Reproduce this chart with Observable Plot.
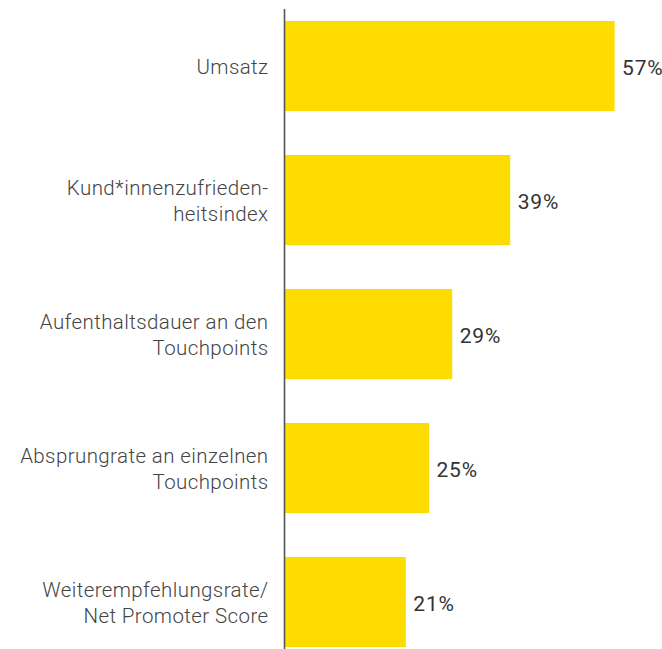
<!DOCTYPE html>
<html>
<head>
<meta charset="utf-8">
<script src="https://cdn.jsdelivr.net/npm/d3@7"></script>
<script src="https://cdn.jsdelivr.net/npm/@observablehq/plot@0.6"></script>
<style>
  html, body { margin: 0; padding: 0; background: #fff; }
  #chart svg { display: block; }
  #chart g.cat-labels text { letter-spacing: 0.4px; }
  #chart g.val-labels text { letter-spacing: 0.8px; }
</style>
</head>
<body>
<div id="chart"></div>
<script>
const categories = [
  "Umsatz",
  "Kund*innenzufrieden-\nheitsindex",
  "Aufenthaltsdauer an den\nTouchpoints",
  "Absprungrate an einzelnen\nTouchpoints",
  "Weiterempfehlungsrate/\nNet Promoter Score"
];
const values = [57, 39, 29, 25, 21];
const valueLabels = ["57%", "39%", "29%", "25%", "21%"];

const data = categories.map((c, i) => ({cat: c, value: values[i], label: valueLabels[i]}));

const chart = Plot.plot({
  width: 662,
  height: 649,
  marginTop: 9,
  marginBottom: 0,
  marginLeft: 284,
  marginRight: 0,
  style: {fontFamily: "Roboto, sans-serif", background: "#fff"},
  x: {domain: [0, 60], range: [284, 284 + 60 * 5.8], axis: null},
  y: {domain: categories, paddingInner: 0.328, paddingOuter: 0.052, align: 0.86, axis: null},
  marks: [
    Plot.barX(data, {x: "value", y: "cat", fill: "#FFDC00"}),
    Plot.ruleX([0], {stroke: "#555", strokeWidth: 1.6}),
    Plot.text(data, {
      x: 0, y: "cat", text: "cat", textAnchor: "end", dx: -16, dy: -0.5,
      fontSize: 20.5, fontWeight: 300, fill: "#444", lineHeight: 1.27,
      className: "cat-labels"
    }),
    Plot.text(data, {
      x: "value", y: "cat", text: "label", textAnchor: "start", dx: 7, dy: 1.5,
      fontSize: 21, fontWeight: 400, fill: "#333",
      className: "val-labels"
    })
  ]
});
document.getElementById("chart").appendChild(chart);
</script>
</body>
</html>
